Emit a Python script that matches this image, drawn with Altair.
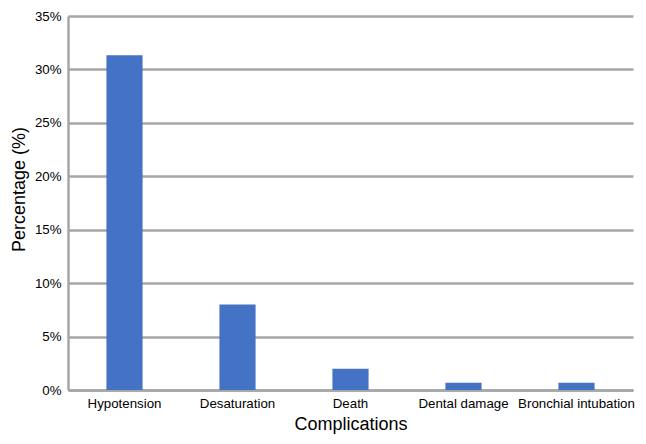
import altair as alt
import pandas as pd

categories = ["Hypotension", "Desaturation", "Death", "Dental damage", "Bronchial intubation"]
percentages = [31.33, 8.0, 2.0, 0.67, 0.67]
y_ticks = [0, 5, 10, 15, 20, 25, 30, 35]

df = pd.DataFrame({"Complication": categories, "Percentage": percentages})

FONT = "Liberation Sans"
GRID = "#a6a6a6"

chart = alt.Chart(df).mark_bar(color="#4472C4").encode(
    x=alt.X(
        "Complication:N",
        sort=categories,
        title="Complications",
        scale=alt.Scale(paddingInner=0.68, paddingOuter=0.34),
        axis=alt.Axis(
            labelAngle=0, ticks=False, domainColor=GRID, domainWidth=2.5,
            labelFont=FONT, labelFontSize=13.3, labelColor="#000000", labelPadding=6,
            titleFont=FONT, titleFontSize=18, titleFontWeight="normal",
            titleColor="#000000", titlePadding=6,
        ),
    ),
    y=alt.Y(
        "Percentage:Q",
        title="Percentage (%)",
        scale=alt.Scale(domain=[0, 35], nice=False),
        axis=alt.Axis(
            values=y_ticks, labelExpr="datum.value + '%'", ticks=False,
            domainColor=GRID, domainWidth=2.5, gridColor=GRID, gridWidth=2.5,
            labelFont=FONT, labelFontSize=13.3, labelColor="#000000", labelPadding=7,
            titleFont=FONT, titleFontSize=18, titleFontWeight="normal",
            titleColor="#000000", titlePadding=6, titleY=173,
        ),
    ),
).properties(
    width=565,
    height=374,
    autosize=alt.AutoSizeParams(type="none"),
    padding={"left": 60, "top": 8, "right": 5, "bottom": 46},
).configure_view(stroke=None)

chart.save("out.html", embed_options={"renderer": "svg", "actions": False})
